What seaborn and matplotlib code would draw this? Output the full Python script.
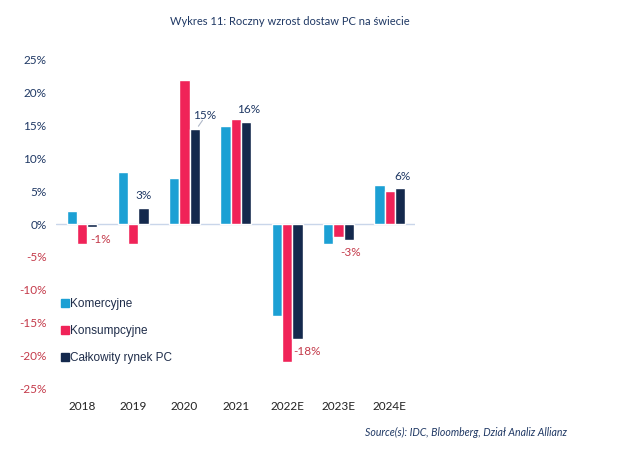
import matplotlib
matplotlib.use("Agg")
import matplotlib.pyplot as plt
import seaborn as sns
import pandas as pd
from matplotlib.lines import Line2D

years = ["2018", "2019", "2020", "2021", "2022E", "2023E", "2024E"]
komercyjne = [2, 8, 7, 15, -14, -3, 6]
konsumpcyjne = [-3, -3, 22, 16, -21, -2, 5]
calkowity = [-0.5, 2.5, 14.5, 15.5, -17.5, -2.5, 5.5]
total_labels = ["-1%", "3%", "15%", "16%", "-18%", "-3%", "6%"]
series_names = ["Komercyjne", "Konsumpcyjne", "Całkowity rynek PC"]
yticks = [25, 20, 15, 10, 5, 0, -5, -10, -15, -20, -25]

colors = ["#1ca0d4", "#f02358", "#14294d"]
navy = "#1f3864"
red = "#c43a4a"

df = pd.DataFrame({
    "year": years * 3,
    "value": komercyjne + konsumpcyjne + calkowity,
    "series": [s for s in series_names for _ in years],
})

sns.set_style("white")
plt.rcParams["font.family"] = ["Lato", "DejaVu Sans"]

fig = plt.figure(figsize=(6.4, 4.54), dpi=100)
ax = fig.add_axes([0.088, 0.145, 0.561, 0.723])

sns.barplot(data=df, x="year", y="value", hue="series", palette=colors,
            width=0.6, saturation=1, ax=ax, legend=False)

ax.set_xlim(-0.5, 6.5)
ax.set_ylim(-25, 25)
ax.axhline(0, color="#c9d6ea", lw=1, zorder=0)
for s in ax.spines.values():
    s.set_visible(False)
ax.set_xlabel("")
ax.set_ylabel("")
ax.set_yticks(yticks)
ax.set_yticklabels([f"{v}%" for v in yticks])
for lab, v in zip(ax.get_yticklabels(), yticks):
    lab.set_color(red if v < 0 else navy)
ax.tick_params(axis="y", length=0, pad=7, labelsize=8.5)
ax.tick_params(axis="x", length=0, pad=9, labelsize=8.5, labelcolor="#222222")

# data labels for total market
label_pos = [(0.37, -2.3), (1.2, 4.3), (2.39, 16.6), (3.24, 17.4),
             (4.39, -19.4), (5.24, -4.3), (6.24, 7.3)]
for (lx, ly), txt in zip(label_pos, total_labels):
    c = red if txt.startswith("-") else navy
    ax.text(lx, ly, txt, ha="center", va="center", fontsize=8.5, color=c)
ax.plot([2.27, 2.35], [14.9, 15.8], color="#b0b8c8", lw=0.8)

handles = [Line2D([], [], marker="s", ls="", color=c, markersize=6) for c in colors]
leg = ax.legend(handles, series_names, loc="upper left",
                bbox_to_anchor=(0.0, 0.29), frameon=False, handlelength=0.6,
                handletextpad=0.2, labelspacing=1.28, borderaxespad=0,
                prop={"family": "Liberation Sans", "size": 8.5})
for t in leg.get_texts():
    t.set_color("#1f2d4a")

fig.text(0.453, 0.952, "Wykres 11: Roczny wzrost dostaw PC na świecie",
         ha="center", va="center", fontsize=8, color=navy)
fig.text(0.886, 0.048, "Source(s): IDC, Bloomberg, Dział Analiz Allianz",
         ha="right", va="center", fontsize=7.6, style="italic", color=navy)

fig.savefig("out.png", dpi=100)
